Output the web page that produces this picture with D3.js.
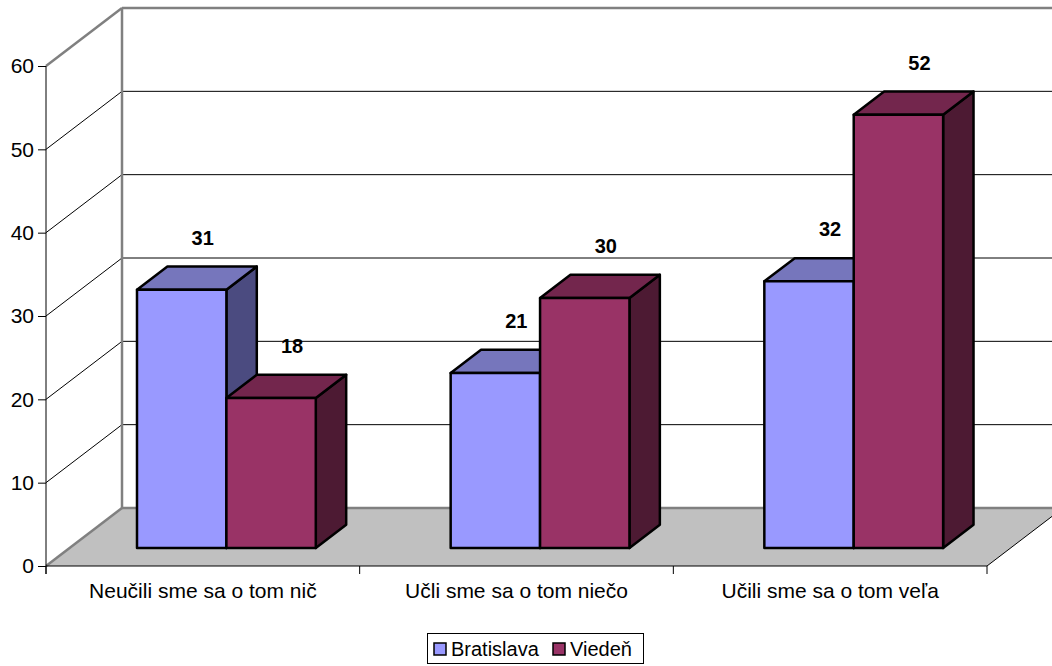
<!DOCTYPE html>
<html>
<head>
<meta charset="utf-8">
<script src="https://cdn.jsdelivr.net/npm/d3@7"></script>
<style>
  html, body { margin: 0; padding: 0; background: #fff; }
  svg { display: block; font-family: "Liberation Sans", Arial, sans-serif; }
</style>
</head>
<body>
<svg id="chart" width="1052" height="666"></svg>
<script>
// ---- data ----
const categories = ["Neučili sme sa o tom nič", "Učli sme sa o tom niečo", "Učili sme sa o tom veľa"];
const seriesNames = ["Bratislava", "Viedeň"];
const bratislava = [31, 21, 32];
const viedenValues = [18, 30, 52];
const yTicks = [0, 10, 20, 30, 40, 50, 60];

const seriesValues = [bratislava, viedenValues];
const colors = {
  Bratislava: { front: "#9999FF", top: "#7676BC", side: "#4B4B80" },
  "Viedeň":   { front: "#993366", top: "#73264D", side: "#4D1A33" }
};

const svg = d3.select("#chart");
const FS = 21;

// ---- geometry ----
const plotLeft = 46, plotRight = 987, plotBase = 566, plotTop = 66;
const depthDX = 76, depthDY = -58;
const proj = (x, y, d) => [x + depthDX * d, y + depthDY * d];

const y = d3.scaleLinear().domain([0, 60]).range([plotBase, plotTop]);
const x0 = d3.scaleBand().domain(categories).range([plotLeft, plotRight]).paddingInner(0.43).paddingOuter(0.215);
const x1 = d3.scaleBand().domain(seriesNames).range([0, x0.bandwidth()]);

const barD0 = 0.31, barD1 = 0.71;

// ---- floor ----
const floorPts = [proj(plotLeft, plotBase, 0), proj(plotLeft, plotBase, 1), proj(plotRight, plotBase, 1), proj(plotRight, plotBase, 0)];
svg.append("polygon").attr("points", floorPts.map(p => p.join(",")).join(" "))
  .attr("fill", "#C0C0C0").attr("stroke", "none");

// wall gridlines
yTicks.filter(t => t > 0 && t < 60).forEach(t => {
  const a = proj(plotLeft, y(t), 0), b = proj(plotLeft, y(t), 1), c = proj(plotRight, y(t), 1);
  svg.append("line").attr("x1", b[0]).attr("y1", b[1]).attr("x2", c[0]).attr("y2", c[1])
    .attr("stroke", "#000").attr("stroke-width", 1);
  svg.append("line").attr("x1", a[0]).attr("y1", a[1]).attr("x2", b[0]).attr("y2", b[1])
    .attr("stroke", "#000").attr("stroke-width", 1);
});

// gray wall edges
const gray = "#808080";
const edge = (p, q) => svg.append("line").attr("x1", p[0]).attr("y1", p[1]).attr("x2", q[0]).attr("y2", q[1])
  .attr("stroke", gray).attr("stroke-width", 2.5);
edge(proj(plotLeft, y(60), 1), proj(plotLeft, y(0), 1));
edge(proj(plotLeft, y(60), 0), proj(plotLeft, y(60), 1));
edge(proj(plotLeft, y(60), 1), proj(plotRight, y(60), 1));
edge(proj(plotLeft, y(0), 1), proj(plotRight, y(0), 1));
edge(proj(plotLeft, y(0), 0), proj(plotLeft, y(0), 1));
{
  const p = proj(plotRight, plotBase, 0), q = proj(plotRight, plotBase, 1);
  svg.append("line").attr("x1", p[0]).attr("y1", p[1]).attr("x2", q[0]).attr("y2", q[1])
    .attr("stroke", "#000").attr("stroke-width", 1);
}

// ---- bars ----
const barsG = svg.append("g");
categories.forEach((cat, ci) => {
  seriesNames.forEach((s, si) => {
    const v = seriesValues[si][ci];
    const xl = x0(cat) + x1(s), xr = xl + x1.bandwidth();
    const yt = y(v), yb = y(0);
    const c = colors[s];
    const P = (xx, yy, d) => proj(xx, yy, d).join(",");
    barsG.append("polygon").attr("points", [P(xr, yt, barD0), P(xr, yt, barD1), P(xr, yb, barD1), P(xr, yb, barD0)].join(" "))
      .attr("fill", c.side).attr("stroke", "#000").attr("stroke-width", 2.5).attr("stroke-linejoin", "round");
    barsG.append("polygon").attr("points", [P(xl, yt, barD0), P(xl, yt, barD1), P(xr, yt, barD1), P(xr, yt, barD0)].join(" "))
      .attr("fill", c.top).attr("stroke", "#000").attr("stroke-width", 2.5).attr("stroke-linejoin", "round");
    barsG.append("polygon").attr("points", [P(xl, yt, barD0), P(xr, yt, barD0), P(xr, yb, barD0), P(xl, yb, barD0)].join(" "))
      .attr("fill", c.front).attr("stroke", "#000").attr("stroke-width", 2.5).attr("stroke-linejoin", "round");
    const fp = proj((xl + xr) / 2, yt, barD0);
    svg.append("text").attr("x", fp[0] + 21).attr("y", fp[1] - 45)
      .attr("text-anchor", "middle").attr("font-size", 20).attr("font-weight", "bold").attr("fill", "#000")
      .text(d3.format("d")(v));
  });
});

// ---- axes ----
const yAxis = d3.axisLeft(y).tickValues(yTicks).tickSize(8).tickPadding(4).tickFormat(d3.format("d"));
const gy = svg.append("g").attr("transform", `translate(${plotLeft},0)`).call(yAxis);
gy.select(".domain").remove();
gy.selectAll("text").attr("font-size", FS).attr("font-family", "Liberation Sans, Arial, sans-serif").attr("fill", "#000");
gy.selectAll("line").attr("stroke", "#000");
svg.append("line").attr("x1", plotLeft).attr("x2", plotLeft).attr("y1", plotTop).attr("y2", plotBase + 8).attr("stroke", "#000");

const xAxis = d3.axisBottom(x0).tickSize(0).tickPadding(17);
const gx = svg.append("g").attr("transform", `translate(0,${plotBase})`).call(xAxis);
gx.select(".domain").remove();
gx.selectAll("text").attr("font-size", FS).attr("font-family", "Liberation Sans, Arial, sans-serif").attr("fill", "#000");
svg.append("line").attr("x1", plotLeft).attr("x2", plotRight).attr("y1", plotBase).attr("y2", plotBase).attr("stroke", "#000");
const bounds = categories.map(c => x0(c) - (x0.step() - x0.bandwidth()) / 2).concat([plotRight]);
bounds.forEach(bx => {
  svg.append("line").attr("x1", bx).attr("x2", bx).attr("y1", plotBase).attr("y2", plotBase + 8).attr("stroke", "#000");
});

// ---- legend ----
const lg = svg.append("g");
lg.append("rect").attr("x", 427.5).attr("y", 633.5).attr("width", 216).attr("height", 30)
  .attr("fill", "#fff").attr("stroke", "#000").attr("stroke-width", 1);
const legendX = [434, 553];
seriesNames.forEach((s, i) => {
  lg.append("rect").attr("x", legendX[i]).attr("y", 643).attr("width", 12).attr("height", 12)
    .attr("fill", colors[s].front).attr("stroke", "#000").attr("stroke-width", 1.5);
  lg.append("text").attr("x", legendX[i] + 17).attr("y", 656).attr("font-size", 20).attr("fill", "#000").text(s);
});
</script>
</body>
</html>
